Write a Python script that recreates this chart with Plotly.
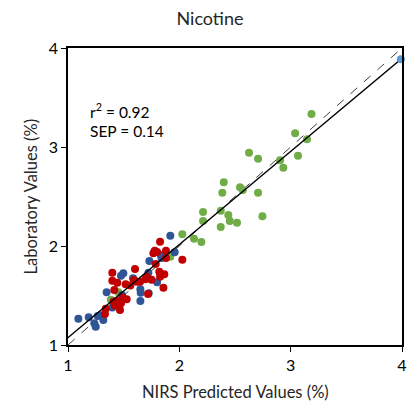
import plotly.graph_objects as go

# Data series (NIRS predicted vs laboratory values, %)
green_x = [3.187, 3.04, 3.147, 3.066, 2.626, 2.707, 2.905, 2.934, 2.399, 2.386, 2.545, 2.57,
           2.707, 2.213, 2.372, 2.44, 2.213, 2.453, 2.518, 2.746, 2.372, 2.027, 2.132, 2.198,
           1.919, 1.452, 1.384]
green_y = [3.333, 3.14, 3.078, 2.912, 2.943, 2.882, 2.866, 2.79, 2.643, 2.538, 2.593, 2.566,
           2.538, 2.343, 2.357, 2.313, 2.253, 2.253, 2.236, 2.30, 2.192, 2.118, 2.074, 2.04,
           1.892, 1.532, 1.458]

blue_x = [1.919, 1.958, 1.833, 1.84, 1.731, 1.497, 1.476, 1.722, 1.584, 1.80, 1.65, 1.653,
          1.725, 1.347, 1.485, 1.65, 1.398, 1.093, 1.186, 1.267, 1.317, 1.236, 1.249, 1.29]
blue_y = [2.104, 1.936, 1.909, 1.88, 1.848, 1.724, 1.70, 1.73, 1.673, 1.633, 1.563, 1.528,
          1.522, 1.532, 1.505, 1.444, 1.38, 1.266, 1.28, 1.293, 1.253, 1.219, 1.185, 1.30]

red_x = [1.827, 1.88, 1.779, 1.767, 1.80, 1.88, 2.027, 1.788, 1.602, 1.865, 1.82, 1.827,
         1.398, 1.398, 1.443, 1.593, 1.647, 1.695, 1.707, 1.518, 1.416, 1.857, 1.719, 1.437,
         1.527, 1.476, 1.467, 1.339, 1.332, 1.42, 1.41, 1.62, 1.56, 1.75, 1.49]
red_y = [2.043, 1.952, 1.952, 1.926, 1.94, 1.879, 1.862, 1.818, 1.768, 1.714, 1.74, 1.69,
         1.73, 1.65, 1.629, 1.657, 1.64, 1.664, 1.69, 1.613, 1.556, 1.579, 1.515, 1.444,
         1.461, 1.421, 1.354, 1.367, 1.313, 1.40, 1.44, 1.64, 1.60, 1.66, 1.48]

fit_x = [0.99, 3.99]
fit_y = [1.065, 3.886]
one_x = [1.0, 4.0]
one_y = [1.0, 4.0]

FONT = "Lato"

fig = go.Figure()
fig.add_trace(go.Scatter(x=one_x, y=one_y, mode="lines",
                         line=dict(color="#404040", width=1, dash="dash"),
                         showlegend=False, hoverinfo="skip"))
for xs, ys, col in [(green_x, green_y, "#70AD47"), (blue_x, blue_y, "#2F5597"),
                    (red_x, red_y, "#C00000")]:
    fig.add_trace(go.Scatter(x=xs, y=ys, mode="markers",
                             marker=dict(color=col, size=8, line=dict(width=0)),
                             showlegend=False))
fig.add_trace(go.Scatter(x=fit_x, y=fit_y, mode="lines+markers",
                         line=dict(color="black", width=1.5),
                         marker=dict(color="#5B9BD5", size=8),
                         showlegend=False, cliponaxis=False))

fig.update_layout(
    width=420, height=405,
    margin=dict(l=68, r=18, t=48, b=60, autoexpand=False),
    paper_bgcolor="white", plot_bgcolor="white",
    font=dict(family=FONT, color="#262626", size=16),
    title=dict(text="Nicotine", x=0.5, xanchor="center", y=0.955, yanchor="middle",
               font=dict(size=18, family=FONT, color="#262626")),
    xaxis=dict(range=[1, 4], tickvals=[1, 2, 3, 4], showgrid=False, zeroline=False,
               showline=True, linecolor="black", linewidth=1.5, mirror=True,
               ticks="outside", ticklen=5, tickcolor="black", tickwidth=1,
               tickfont=dict(size=16, color="black"), automargin=False),
    yaxis=dict(range=[1, 4], tickvals=[1, 2, 3, 4], showgrid=False, zeroline=False,
               showline=True, linecolor="black", linewidth=1.5, mirror=True,
               ticks="outside", ticklen=5, tickcolor="black", tickwidth=1,
               tickfont=dict(size=16, color="black"), automargin=False),
    annotations=[
        dict(text="NIRS Predicted Values (%)", x=0.5, y=392, xref="paper", yref="paper",
             showarrow=False, font=dict(size=16.5, color="#262626")),
        dict(text="Laboratory Values (%)", x=30, y=0.5, xref="paper", yref="paper",
             showarrow=False, textangle=-90, font=dict(size=16.5, color="#262626")),
        dict(text="r<sup>2</sup> = 0.92", x=1.18, y=3.37, xref="x", yref="y",
             xanchor="left", yanchor="middle", showarrow=False, align="left",
             font=dict(size=15.5, color="black", family=FONT)),
        dict(text="SEP = 0.14", x=1.18, y=3.16, xref="x", yref="y",
             xanchor="left", yanchor="middle", showarrow=False, align="left",
             font=dict(size=15.5, color="black", family=FONT)),
    ],
)

# convert pixel positions of axis-title annotations to paper coordinates
pw, ph = 420 - 68 - 18, 405 - 48 - 60
ann = list(fig.layout.annotations)
ann[0].update(y=(345 - 392) / ph, yanchor="middle")
ann[1].update(x=(30 - 68) / pw, xanchor="center")
fig.layout.annotations = ann

fig.write_html("out.html")
